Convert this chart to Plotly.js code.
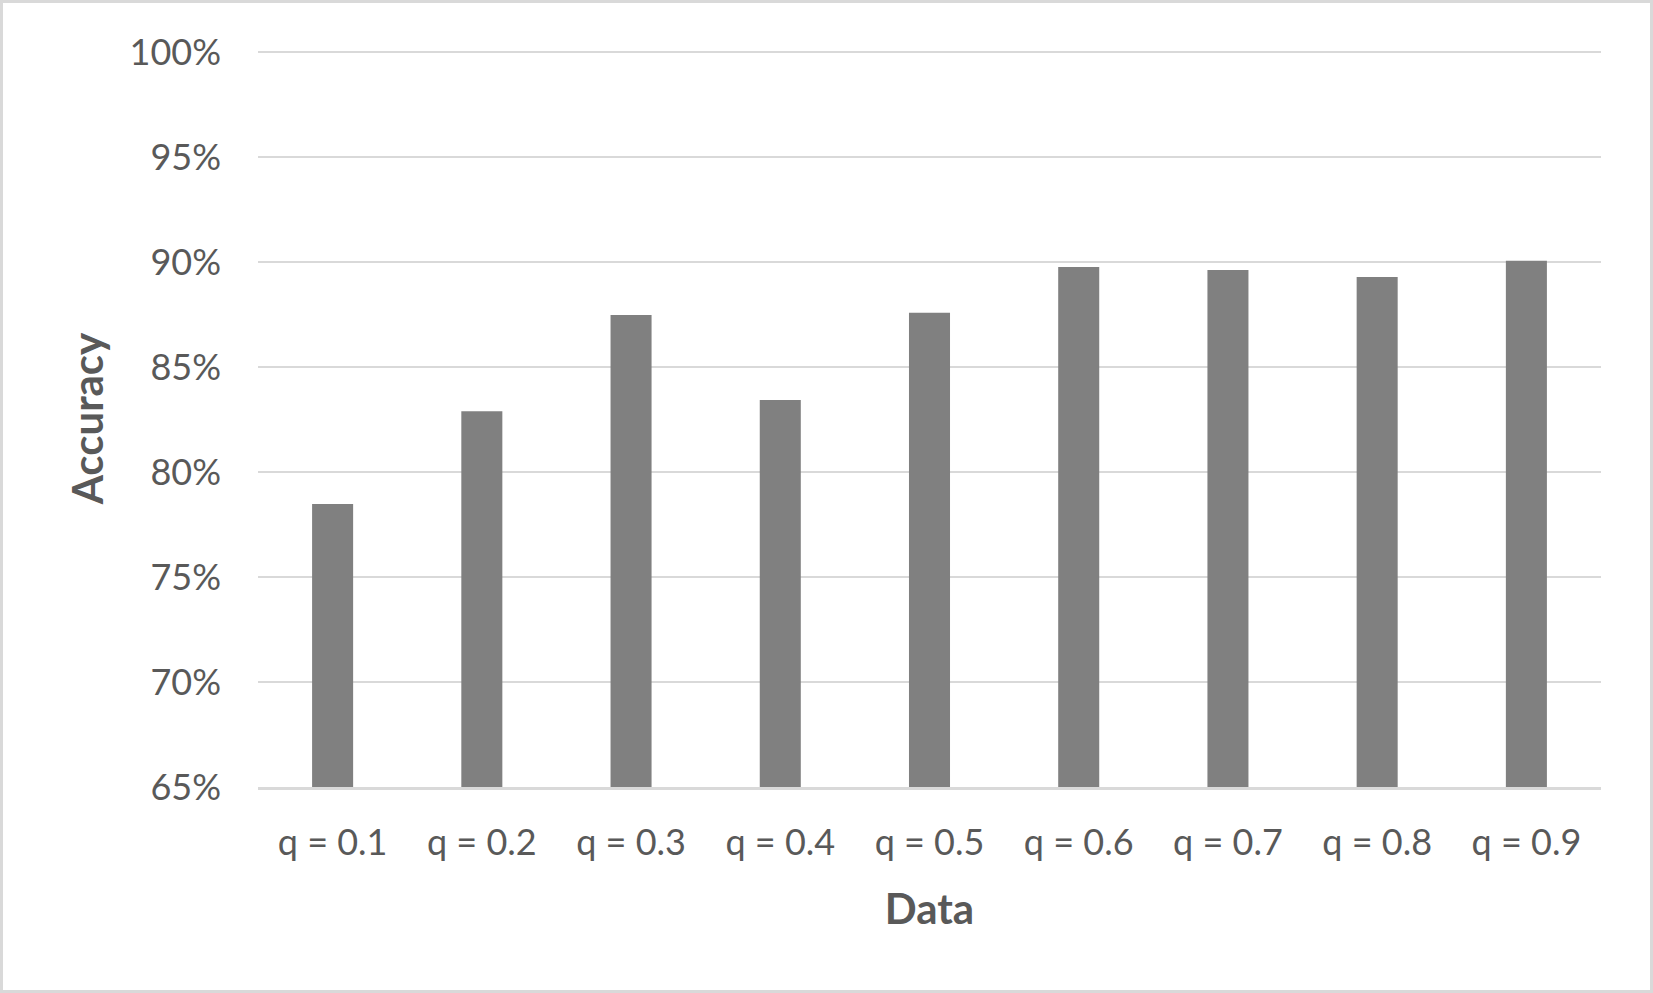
<!DOCTYPE html>
<html>
<head>
<meta charset="utf-8">
<script src="https://cdn.plot.ly/plotly-3.0.1.min.js"></script>
<style>
  html, body { margin: 0; padding: 0; background: #ffffff; }
  #wrap { position: relative; width: 1653px; height: 993px; }
  #chart { width: 1653px; height: 993px; }
  #frame { position: absolute; left: 0; top: 0; width: 1653px; height: 993px;
           box-sizing: border-box; border: 3px solid #d9d9d9; pointer-events: none; }
</style>
</head>
<body>
<div id="wrap">
  <div id="chart"></div>
  <div id="frame"></div>
</div>
<script>
const categories = ["q = 0.1", "q = 0.2", "q = 0.3", "q = 0.4", "q = 0.5", "q = 0.6", "q = 0.7", "q = 0.8", "q = 0.9"];
const accuracy = [0.7848, 0.8290, 0.8748, 0.8343, 0.8759, 0.8976, 0.8962, 0.8929, 0.9006];
const yTickValues = [0.65, 0.70, 0.75, 0.80, 0.85, 0.90, 0.95, 1.00];
const yTickLabels = ["65%", "70%", "75%", "80%", "85%", "90%", "95%", "100%"];

const FONT = "Lato, 'Open Sans', 'DejaVu Sans', sans-serif";
const TXT = "#595959";

const trace = {
  type: "bar",
  x: categories,
  y: accuracy,
  marker: { color: "#808080", line: { width: 0 } },
  hoverinfo: "x+y"
};

const layout = {
  width: 1653,
  height: 993,
  paper_bgcolor: "#ffffff",
  plot_bgcolor: "#ffffff",
  margin: { l: 258, r: 52, t: 50, b: 205.5, pad: 0 },
  bargap: 0.725,
  showlegend: false,
  font: { family: FONT, color: TXT },
  xaxis: {
    type: "category",
    showgrid: false,
    showline: true,
    linecolor: "#d9d9d9",
    linewidth: 2.5,
    ticks: "",
    ticklabelstandoff: 22,
    tickfont: { family: FONT, size: 36, color: TXT },
    title: { text: "Data", font: { family: FONT, size: 42, color: TXT, weight: "bold" }, standoff: 33 },
    zeroline: false
  },
  yaxis: {
    range: [0.65, 1.001],
    tickvals: yTickValues,
    ticktext: yTickLabels,
    showgrid: true,
    gridcolor: "#d9d9d9",
    gridwidth: 2.5,
    showline: false,
    ticks: "",
    ticklabelstandoff: 36,
    tickfont: { family: FONT, size: 36, color: TXT },
    title: { text: "Accuracy", font: { family: FONT, size: 42, color: TXT, weight: "bold" }, standoff: 12 },
    zeroline: false,
    fixedrange: true
  }
};

Plotly.newPlot("chart", [trace], layout, { displayModeBar: false, staticPlot: true });
</script>
</body>
</html>
